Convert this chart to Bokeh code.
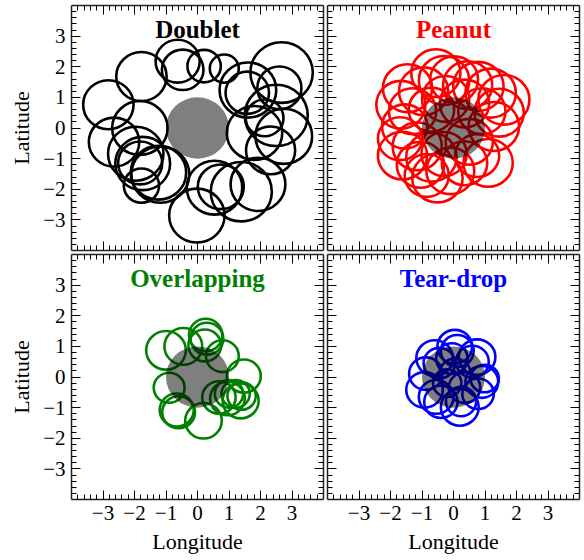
from bokeh.plotting import figure
from bokeh.layouts import gridplot
from bokeh.models import LinearAxis, FixedTicker, ColumnDataSource, Range1d
from bokeh.core.properties import value
from bokeh.embed import file_html
from bokeh.resources import INLINE

FONT = "Liberation Serif"

# ---------------- data ----------------
tick_values = [-3, -2, -1, 0, 1, 2, 3]
tick_labels = ["\u22123", "\u22122", "\u22121", "0", "1", "2", "3"]
minor_values = [v / 10 for v in range(-38, 39, 2) if v % 10 != 0]

panel_titles = ["Doublet", "Peanut", "Overlapping", "Tear-drop"]
panel_colors = ["black", "#ff0000", "#008000", "#0000ff"]

center_x = [0.0]
center_y = [0.0]
center_r = [1.0]

doublet_x = [-2.83, -1.78, -0.63, -0.47, 0.21, 0.85, 2.67, 1.60, 1.58, 2.60,
             2.50, 2.13, 1.81, 2.74, 2.32, -0.02, 0.54, 0.74, 1.39, 1.92,
             -2.65, -1.83, -1.96, -1.74, -1.82, -1.24, -1.18, -1.78]
doublet_y = [0.76, 1.68, 2.18, 1.90, 2.02, 1.94, 1.81, 1.24, 1.15, 1.31,
             0.41, 0.33, -0.16, -0.27, -0.73, -2.86, -1.95, -1.92, -2.08, -1.84,
             -0.46, 0.00, -0.84, -1.16, -1.14, -1.46, -1.52, -1.88]
doublet_r = [0.80, 0.80, 0.70, 0.66, 0.53, 0.46, 0.99, 0.90, 0.69, 0.70,
             1.00, 0.60, 0.88, 0.90, 0.78, 0.88, 0.88, 0.73, 0.97, 0.87,
             0.80, 0.88, 0.88, 0.87, 0.70, 0.88, 0.92, 0.56]

peanut_x = [-0.56, -0.30, 0.02, 0.45, 0.79, 1.18, 1.60, 1.45, 1.28, 0.90,
            0.35, -0.25, -0.95, -1.46, -1.67, -1.30, -1.55, -0.70, -1.62, -1.15,
            -1.05, -0.70, -0.51, -0.10, -0.30, 0.35, 0.75, 1.10, 0.50, -0.85, -1.70]
peanut_y = [1.79, 1.55, 1.58, 1.40, 1.36, 1.14, 0.92, 0.50, 0.05, 0.55,
            0.80, 0.95, 1.20, 1.30, 0.76, 0.55, 0.05, 0.60, -0.90, -0.60,
            -1.20, -0.95, -1.63, -1.40, -0.85, -1.15, -0.90, -1.14, -0.45, -1.55, -0.35]
peanut_r = [0.78, 0.80, 0.76, 0.78, 0.80, 0.80, 0.81, 0.78, 0.80, 0.75,
            0.78, 0.75, 0.78, 0.78, 0.78, 0.75, 0.72, 0.72, 0.78, 0.78,
            0.75, 0.80, 0.80, 0.76, 0.72, 0.72, 0.70, 0.78, 0.75, 0.70, 0.70]

overlap_x = [-1.00, -0.45, 0.26, 0.30, 0.23, 0.79, 1.47, -0.90, -0.66, -0.60,
             0.19, 0.68, 1.00, 1.21, 1.37, 1.40, 0.95]
overlap_y = [0.87, 1.00, 1.37, 1.25, 1.03, 0.68, 0.03, -0.35, -1.08, -1.15,
             -1.43, -0.67, -0.55, -0.55, -0.78, -0.62, -0.70]
overlap_r = [0.63, 0.60, 0.53, 0.52, 0.52, 0.52, 0.54, 0.49, 0.54, 0.52,
             0.58, 0.53, 0.45, 0.45, 0.57, 0.45, 0.55]

tear_x = [0.04, 0.12, -0.05, -0.60, -0.45, 0.75, 0.60, -0.88, -0.92, -0.55,
          -0.40, 0.20, 0.24, 0.90, 0.99, 0.78, 0.35, 0.05, -0.20]
tear_y = [0.99, 0.85, 0.60, 0.62, 0.45, 0.65, 0.50, 0.11, -0.42, -0.65,
          -0.81, -0.99, -0.80, -0.16, -0.05, -0.55, -0.35, 0.10, -0.20]
tear_r = [0.55, 0.52, 0.50, 0.58, 0.50, 0.58, 0.52, 0.53, 0.58, 0.55,
          0.53, 0.60, 0.48, 0.52, 0.45, 0.50, 0.50, 0.50, 0.45]

panel_data = [(doublet_x, doublet_y, doublet_r),
              (peanut_x, peanut_y, peanut_r),
              (overlap_x, overlap_y, overlap_r),
              (tear_x, tear_y, tear_r)]

AX_COLOR = "#222222"


def base_axis(ax):
    ax.major_tick_out = 0
    ax.minor_tick_out = 0
    ax.major_tick_line_color = "black"
    ax.minor_tick_line_color = "black"
    ax.major_tick_line_width = 1
    ax.minor_tick_line_width = 1


def labelled_axis(ax, label):
    base_axis(ax)
    ax.ticker = FixedTicker(ticks=tick_values, minor_ticks=minor_values)
    ax.major_tick_in = 9
    ax.minor_tick_in = 5
    ax.axis_line_color = AX_COLOR
    ax.axis_line_width = 1.5
    ax.major_label_overrides = dict(zip(tick_values, tick_labels))
    ax.major_label_text_font = FONT
    ax.major_label_text_font_size = "21px"
    ax.major_label_text_color = "black"
    ax.major_label_standoff = 6
    ax.axis_label = label
    ax.axis_label_text_font = FONT
    ax.axis_label_text_font_size = "22px"
    ax.axis_label_text_font_style = "normal"
    ax.axis_label_text_color = "black"
    ax.axis_label_standoff = 6


def bare_axis(p, ax, side, edge):
    # primary axis: frame line and long (integer) ticks, no labels
    base_axis(ax)
    ax.ticker = FixedTicker(ticks=[], minor_ticks=tick_values)
    ax.minor_tick_in = 9
    ax.axis_line_color = AX_COLOR
    ax.axis_line_width = 1.5
    ax.axis_label = None
    # secondary axis pinned on the frame edge: short ticks
    ax2 = LinearAxis(fixed_location=edge,
                     ticker=FixedTicker(ticks=[], minor_ticks=minor_values))
    base_axis(ax2)
    ax2.minor_tick_in = 5
    ax2.axis_line_color = None
    ax2.axis_label = None
    p.add_layout(ax2, side)


def make_panel(i):
    col = i % 2
    row = i // 2
    xs, ys, rs = panel_data[i]
    p = figure(frame_width=252, frame_height=245,
               x_range=Range1d(-4, 4), y_range=Range1d(-4, 4),
               output_backend="svg", toolbar_location=None,
               min_border_left=71 if col == 0 else 2,
               min_border_right=2,
               min_border_top=5 if row == 0 else 2,
               min_border_bottom=2 if row == 0 else 0,
               background_fill_color="white", border_fill_color="white",
               outline_line_color=None)
    p.grid.visible = False
    top_ax = LinearAxis()
    right_ax = LinearAxis()
    p.add_layout(top_ax, "above")
    p.add_layout(right_ax, "right")
    if col == 0:
        labelled_axis(p.left[0], "Latitude")
    else:
        bare_axis(p, p.left[0], "left", -4)
    if row == 1:
        labelled_axis(p.below[0], "Longitude")
    else:
        bare_axis(p, p.below[0], "below", -4)
    bare_axis(p, top_ax, "above", 4)
    bare_axis(p, right_ax, "right", 4)

    src = ColumnDataSource(dict(x=xs, y=ys, d=[2 * r for r in rs]))
    p.ellipse(x="x", y="y", width="d", height="d", source=src,
              fill_color=None, line_color=panel_colors[i], line_width=2.6)
    p.ellipse(x=center_x, y=center_y, width=[2 * r for r in center_r],
              height=[2 * r for r in center_r],
              fill_color="black", fill_alpha=0.5, line_color=None)
    p.text(x=[0], y=[3.22], text=[panel_titles[i]], text_color=panel_colors[i],
           text_font=value(FONT), text_font_style="bold", text_font_size="25px",
           text_align="center", text_baseline="alphabetic")
    return p


panels = [make_panel(i) for i in range(4)]
grid = gridplot([[panels[0], panels[1]], [panels[2], panels[3]]],
                toolbar_location=None)

open("out.html", "w").write(file_html(grid, INLINE))
